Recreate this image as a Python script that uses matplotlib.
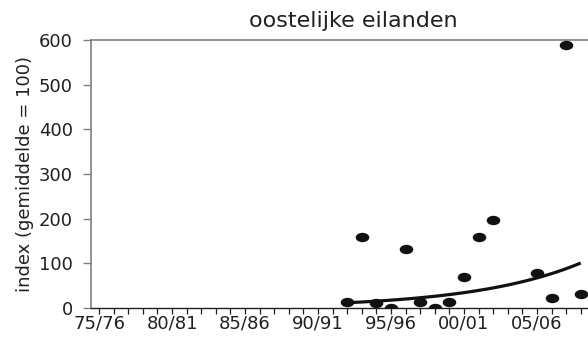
import numpy as np
import matplotlib
matplotlib.use('Agg')
import matplotlib.pyplot as plt
from matplotlib.path import Path
from matplotlib.transforms import Affine2D

# seasons 75/76 .. 08/09, labels every 5th season
seasons = [f'{y % 100:02d}/{(y + 1) % 100:02d}' for y in range(1975, 2009)]
tick_labels = [s if i % 5 == 0 else '' for i, s in enumerate(seasons)]

# observed index values (season position, index)
obs_pos = [17, 18, 19, 20, 21, 22, 23, 24, 25, 26, 27, 30, 31, 32, 33]
obs_val = [14, 158, 12, 1, 132, 14, 1, 13, 69, 158, 197, 79, 22, 589, 31]

TXT = '#231f20'
GREY = '#808080'

# exponential trendline (least squares on ln y, like a spreadsheet trendline)
x = np.array(obs_pos, dtype=float); y = np.array(obs_val, dtype=float)
b, a = np.polyfit(x, np.log(y), 1)
xt = np.linspace(x.min(), x.max(), 100)
yt = np.exp(a + b * xt)

ellipse = Path.unit_circle().transformed(Affine2D().scale(1.45, 1.0))

fig = plt.figure(figsize=(5.88, 3.42), dpi=100)
ax = fig.add_axes([91 / 588, 1 - 308 / 342, 497 / 588, 268 / 342])

ax.plot(obs_pos, obs_val, ls='none', marker=ellipse, ms=9.8, color='#111111', mec='none', zorder=3)
ax.plot(xt, yt, color='#111111', lw=2.3, zorder=4, solid_capstyle='butt')

ax.set_xlim(-0.55, 33.5)
ax.set_ylim(0, 600)
ax.set_xticks(range(len(seasons)))
ax.set_xticklabels(tick_labels, fontsize=13, color=TXT)
ax.set_yticks(range(0, 601, 100))
ax.tick_params(axis='y', labelsize=13, labelcolor=TXT, color=GREY, length=6, width=1, pad=7)
ax.tick_params(axis='x', color=TXT, length=4, width=0.9, pad=1)

ax.spines['right'].set_visible(False)
ax.spines['left'].set_color(GREY); ax.spines['left'].set_linewidth(1.2)
ax.spines['top'].set_color(GREY); ax.spines['top'].set_linewidth(1.2)
ax.spines['bottom'].set_color(TXT); ax.spines['bottom'].set_linewidth(1.0)

ax.set_ylabel('index (gemiddelde = 100)', fontsize=13, color=TXT)
ax.yaxis.set_label_coords(-57 / 497, 0.5)
fig.text(353 / 588, 1 - 21 / 342, 'oostelijke eilanden', fontsize=16, color=TXT, ha='center', va='center')

fig.savefig('out.png', dpi=100)
